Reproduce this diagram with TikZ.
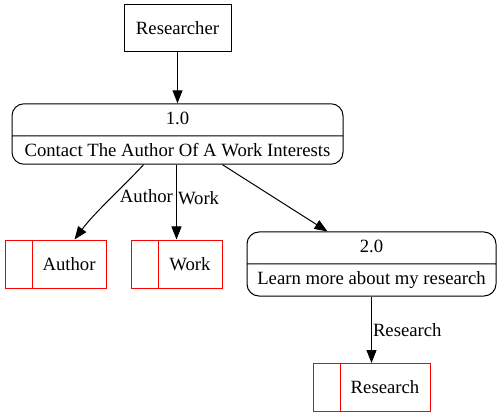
\documentclass[tikz,border=0pt]{standalone}
\usepackage{fontspec}
\setmainfont{Liberation Serif}
\usepackage{tikz}
\usetikzlibrary{positioning,arrows.meta,shapes.multipart}

\begin{document}
\begin{tikzpicture}[x=1pt, y=-1pt,
    every node/.style={font=\fontsize{18.7}{21}\selectfont},
    entity/.style={rectangle, draw, line width=1pt, minimum width=107pt, minimum height=47pt},
    process/.style={rectangle split, rectangle split parts=2, draw, line width=1pt,
        rounded corners=12pt, text height=13pt, text depth=4pt, inner ysep=7pt},
    store/.style={rectangle, draw=red, line width=1pt, minimum height=48pt, inner xsep=0pt,
        path picture={\draw[red, line width=1pt]
            ([xshift=27pt]path picture bounding box.north west) --
            ([xshift=27pt]path picture bounding box.south west);}},
    arr/.style={-{Triangle[length=13pt, width=10pt]}, line width=1pt},
    flowlabel/.style={inner sep=1pt},
]
\useasboundingbox (0,0) rectangle (502,419);

\node[entity] (res) at (177.5,28.5) {Researcher};
\node[process, minimum width=331pt] (p1) at (177.5,134)
    {1.0\nodepart{two}Contact The Author Of A Work Interests};
\node[process, minimum width=249pt] (p2) at (371.5,264)
    {2.0\nodepart{two}Learn more about my research};

\node[store, minimum width=101pt] (author) at (55.5,264) {\hspace*{27pt}Author};
\node[store, minimum width=91pt] (work) at (176.5,264) {\hspace*{27pt}Work};
\node[store, minimum width=117pt] (research) at (371.5,387.5) {\hspace*{27pt}Research};

\draw[arr] (res) -- (p1);
\draw[arr] ([xshift=-34pt]p1.south) .. controls (125,185) and (95,212) .. ([xshift=19pt]author.north)
    node[flowlabel, pos=0.45, anchor=west, xshift=5pt] (tauthor) {Author};
\draw[arr] (work.north |- p1.south) -- (work.north)
    node[flowlabel, pos=0.45, anchor=west] (twork) {Work};
\draw[arr] ([xshift=45pt]p1.south) -- ([xshift=-44pt]p2.north);
\draw[arr] (p2.south) -- (research.north)
    node[flowlabel, midway, anchor=west] (tresearch) {Research};
\end{tikzpicture}
\end{document}
